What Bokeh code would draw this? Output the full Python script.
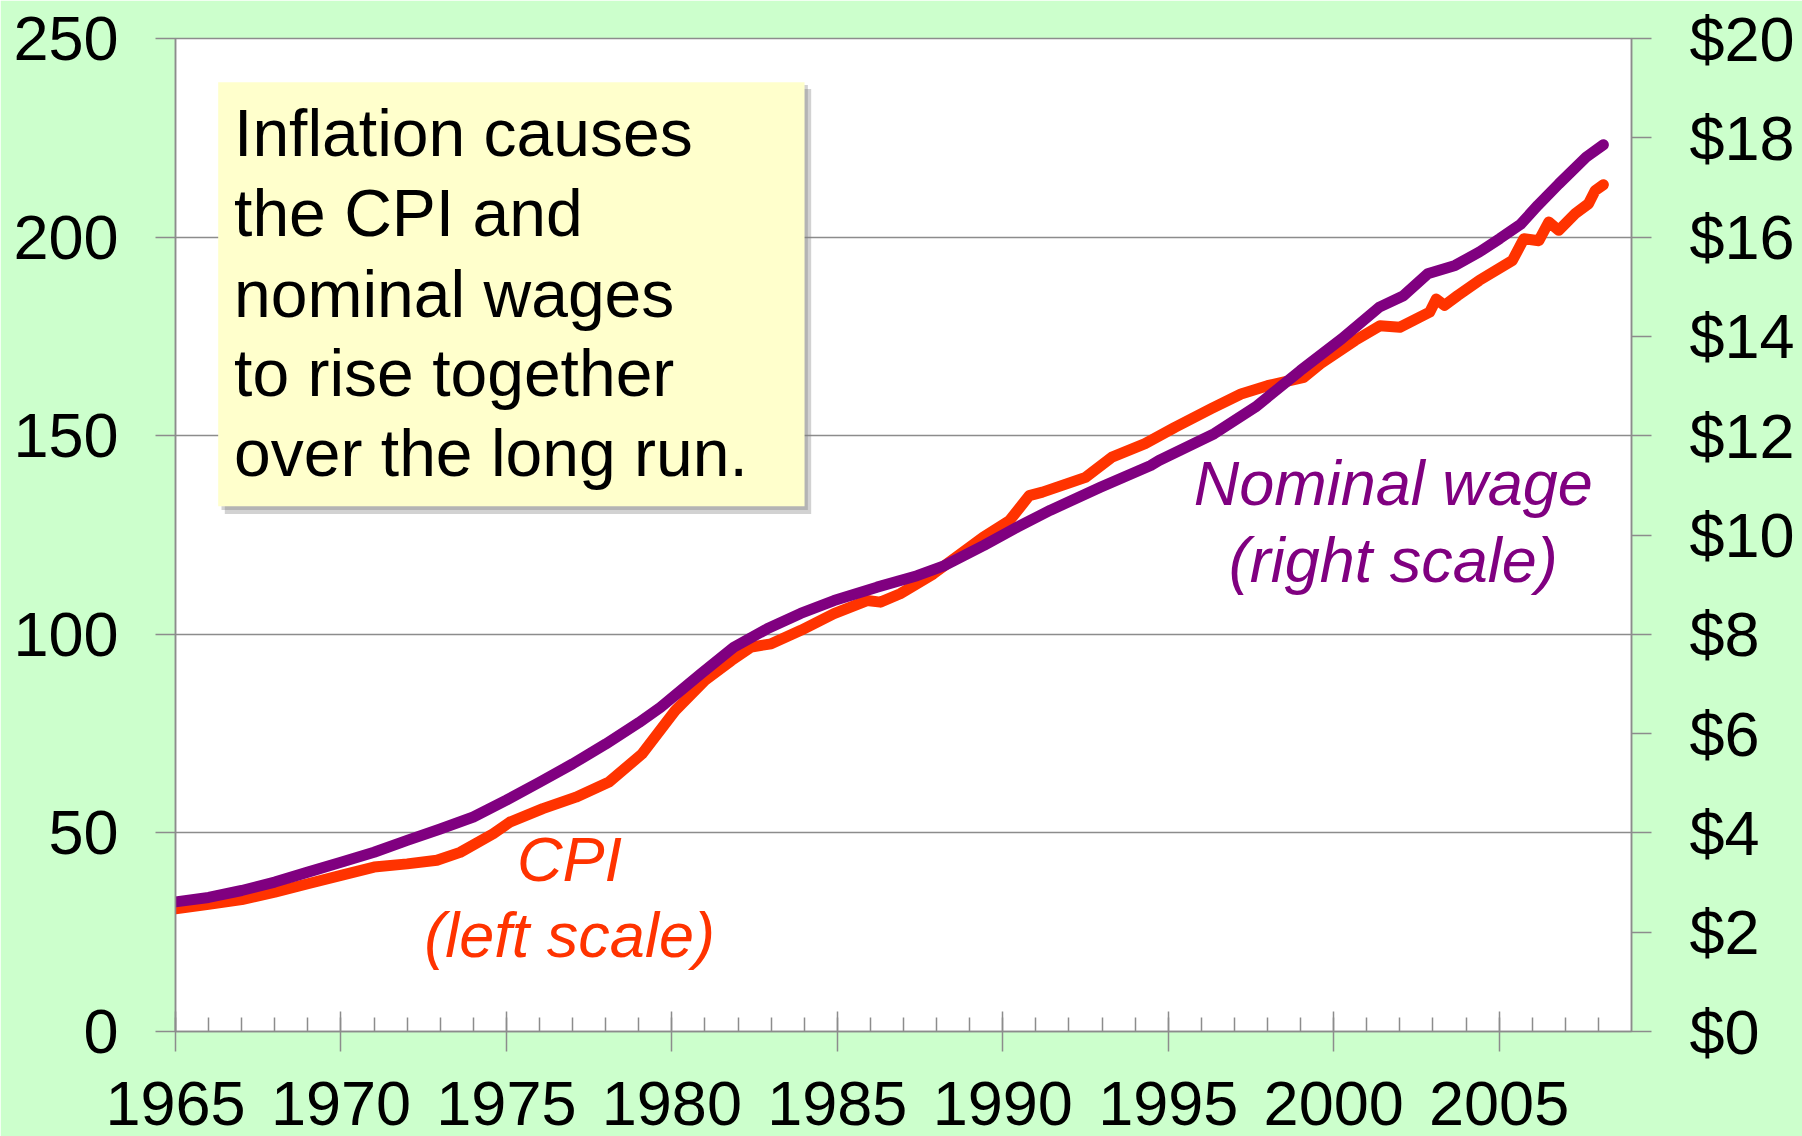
from bokeh.plotting import figure
from bokeh.models import Range1d, LinearAxis, FixedTicker, BoxAnnotation, Label
from bokeh.embed import file_html
from bokeh.resources import INLINE

# ---------------- data ----------------
cpi_years = [1965.0, 1966.0, 1967.0, 1968.0, 1969.0, 1970.0, 1971.0, 1972.0, 1972.9,
             1973.6, 1974.6, 1975.1, 1976.1, 1977.1, 1978.1, 1979.1, 1980.1, 1981.0,
             1981.8, 1982.4, 1983.0, 1983.9, 1984.9, 1985.9, 1986.3, 1986.9, 1987.9,
             1989.4, 1990.2, 1990.8, 1991.2, 1992.5, 1993.3, 1994.3, 1995.2, 1996.3,
             1997.2, 1998.0, 1999.1, 1999.6, 2000.65, 2001.4, 2002.0, 2002.9, 2003.1,
             2003.35, 2003.75, 2004.4, 2005.4, 2005.75, 2006.2, 2006.5, 2006.8, 2007.3,
             2007.7, 2007.9, 2008.15]
cpi_values = [30.9, 32.0, 33.2, 35.1, 37.2, 39.3, 41.4, 42.2, 43.1,
              45.1, 49.8, 52.7, 56.1, 59.0, 62.8, 69.9, 80.8, 88.4,
              93.4, 96.8, 97.6, 101.0, 105.2, 108.5, 108.1, 110.2, 115.2,
              124.4, 128.6, 134.9, 135.8, 139.5, 144.6, 148.0, 152.1, 156.8,
              160.5, 162.6, 164.7, 168.1, 174.0, 177.7, 177.3, 181.1, 184.4,
              182.8, 185.3, 189.1, 194.1, 199.6, 199.1, 203.8, 201.7, 205.9,
              208.4, 211.7, 213.2]

wage_years = [1965.0, 1966.0, 1967.0, 1968.0, 1969.0, 1970.0, 1971.0, 1972.0, 1973.0,
              1974.0, 1975.0, 1976.0, 1977.0, 1978.0, 1979.0, 1979.66, 1980.87, 1981.87,
              1982.88, 1983.89, 1984.9, 1986.2, 1987.41, 1988.22, 1989.43, 1990.44,
              1991.44, 1992.95, 1994.47, 1994.72, 1996.39, 1997.64, 1998.99, 2000.24,
              2001.38, 2002.11, 2002.84, 2003.67, 2004.40, 2005.02, 2005.65, 2006.17,
              2006.8, 2007.63, 2008.15]
wage_dollars = [2.61, 2.70, 2.84, 3.01, 3.21, 3.41, 3.61, 3.85, 4.08,
                4.32, 4.66, 5.02, 5.39, 5.79, 6.22, 6.53, 7.20, 7.74,
                8.11, 8.42, 8.68, 8.95, 9.18, 9.38, 9.79, 10.16,
                10.50, 10.96, 11.40, 11.50, 12.04, 12.58, 13.31, 13.95,
                14.59, 14.82, 15.26, 15.43, 15.70, 15.97, 16.26, 16.64,
                17.07, 17.61, 17.86]

x_major_ticks = [1965, 1970, 1975, 1980, 1985, 1990, 1995, 2000, 2005]
x_minor_ticks = list(range(1965, 2009))
left_ticks = [0, 50, 100, 150, 200, 250]
right_ticks = [0, 2, 4, 6, 8, 10, 12, 14, 16, 18, 20]
right_tick_labels = ["$0", "$2", "$4", "$6", "$8", "$10", "$12", "$14", "$16", "$18", "$20"]

box_lines = ["Inflation causes", "the CPI and", "nominal wages",
             "to rise together", "over the long run."]
cpi_label_lines = ["CPI", "(left scale)"]
wage_label_lines = ["Nominal wage", "(right scale)"]

# ---------------- styling ----------------
BG = "#CCFFCC"
GRID = "#8C8C8C"
CPI_COLOR = "#FF3300"
WAGE_COLOR = "#800080"
FONT = "Liberation Sans"
TICK_SIZE = "63px"

p = figure(width=1802, height=1136, output_backend="svg", toolbar_location=None,
           x_range=Range1d(1965, 2009), y_range=Range1d(0, 250),
           min_border_left=175, min_border_right=171, min_border_top=38,
           min_border_bottom=105, background_fill_color="white",
           border_fill_color=BG, outline_line_color=GRID, outline_line_width=1.5)
p.extra_y_ranges = {"wage": Range1d(0, 20)}

# bottom axis
xa = p.xaxis[0]
xa.ticker = FixedTicker(ticks=x_major_ticks, minor_ticks=x_minor_ticks)
xa.axis_line_color = GRID
xa.axis_line_width = 1.5
xa.major_tick_line_color = GRID
xa.major_tick_line_width = 1.5
xa.minor_tick_line_color = GRID
xa.minor_tick_line_width = 1.5
xa.major_tick_in = 20
xa.major_tick_out = 20
xa.minor_tick_in = 14
xa.minor_tick_out = 0
xa.major_label_text_font = FONT
xa.major_label_text_font_size = TICK_SIZE
xa.major_label_text_color = "black"
xa.major_label_text_line_height = 0.8
xa.major_label_standoff = 30

# left axis
ya = p.yaxis[0]
ya.ticker = FixedTicker(ticks=left_ticks)
ya.axis_line_color = GRID
ya.axis_line_width = 1.5
ya.major_tick_line_color = GRID
ya.major_tick_line_width = 1.5
ya.major_tick_in = 0
ya.major_tick_out = 20
ya.minor_tick_line_color = None
ya.major_label_text_font = FONT
ya.major_label_text_font_size = TICK_SIZE
ya.major_label_text_color = "black"
ya.major_label_standoff = 37

# right axis
ra = LinearAxis(y_range_name="wage", ticker=FixedTicker(ticks=right_ticks),
                major_label_overrides={t: s for t, s in zip(right_ticks, right_tick_labels)})
ra.axis_line_color = GRID
ra.axis_line_width = 1.5
ra.major_tick_line_color = GRID
ra.major_tick_line_width = 1.5
ra.major_tick_in = 0
ra.major_tick_out = 20
ra.minor_tick_line_color = None
ra.major_label_text_font = FONT
ra.major_label_text_font_size = TICK_SIZE
ra.major_label_text_color = "black"
ra.major_label_standoff = 38
p.add_layout(ra, "right")

p.xgrid.grid_line_color = None
p.ygrid.ticker = FixedTicker(ticks=left_ticks)
p.ygrid.grid_line_color = GRID
p.ygrid.grid_line_width = 1.5

# series
p.line(cpi_years, cpi_values, line_color=CPI_COLOR, line_width=11,
       line_cap="round", line_join="round")
p.line(wage_years, wage_dollars, y_range_name="wage", line_color=WAGE_COLOR,
       line_width=11, line_cap="round", line_join="round")

# text box with shadow
p.add_layout(BoxAnnotation(left=1966.49, right=1984.21, bottom=130.3, top=237.3,
                           fill_color="#7F7F7F", fill_alpha=0.35, line_color=None))
p.add_layout(BoxAnnotation(left=1966.39, right=1984.11, bottom=131.3, top=238.3,
                           fill_color="#7F7F7F", fill_alpha=0.35, line_color=None))
p.add_layout(BoxAnnotation(left=1966.29, right=1984.01, bottom=132.25, top=239.0,
                           fill_color="#FFFFCC", fill_alpha=1.0, line_color=None))
box_baselines = [226.1, 206.0, 185.8, 165.7, 145.6]
for txt, yb in zip(box_lines, box_baselines):
    p.add_layout(Label(x=1966.77, y=yb, text=txt, text_font=FONT,
                       text_font_size="66px", text_color="black",
                       text_align="left", text_baseline="alphabetic"))

for txt, yb in zip(cpi_label_lines, [43.5, 24.4]):
    p.add_layout(Label(x=1976.91, y=yb, text=txt, text_font=FONT,
                       text_font_size="63px", text_font_style="italic",
                       text_color=CPI_COLOR, text_align="center",
                       text_baseline="alphabetic"))
for txt, yb in zip(wage_label_lines, [138.0, 118.7]):
    p.add_layout(Label(x=2001.8, y=yb, text=txt, text_font=FONT,
                       text_font_size="63px", text_font_style="italic",
                       text_color=WAGE_COLOR, text_align="center",
                       text_baseline="alphabetic"))

open("out.html", "w").write(file_html(p, INLINE))
